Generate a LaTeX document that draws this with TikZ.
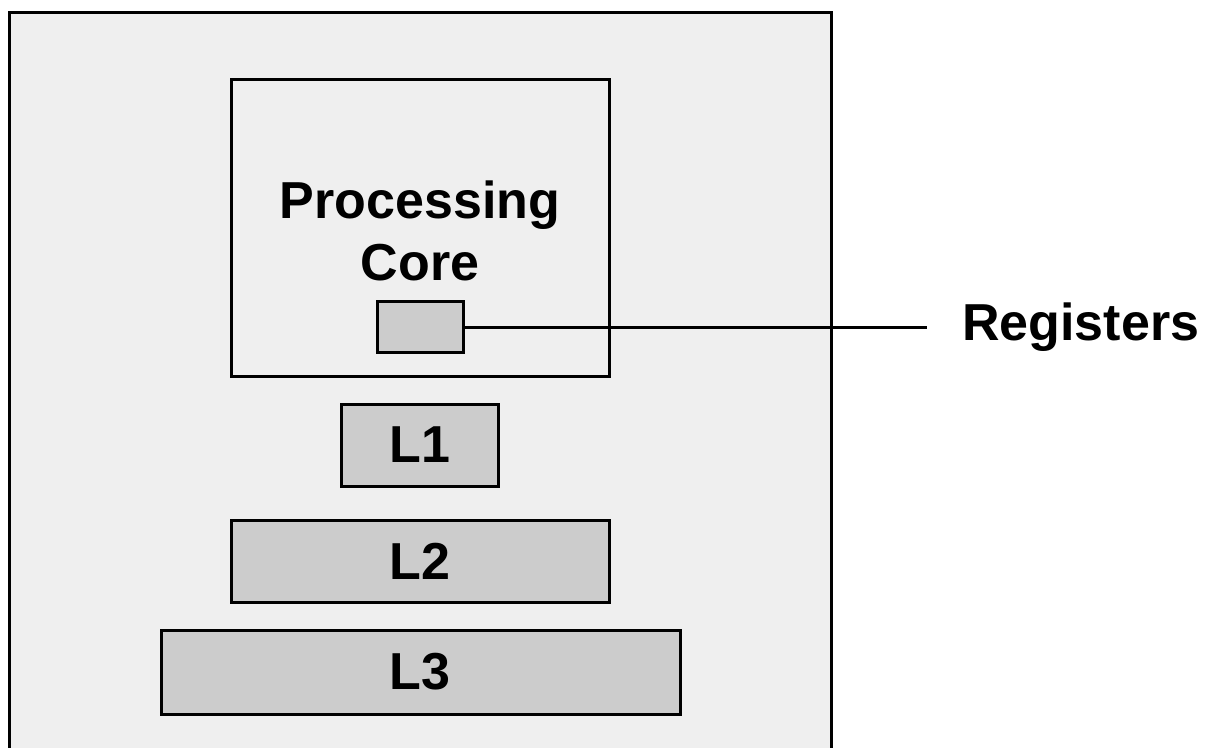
\documentclass[tikz,border=0pt]{standalone}
\usepackage{fontspec}
\setmainfont{Liberation Sans}
\definecolor{bgpanel}{HTML}{EFEFEF}
\definecolor{cachegray}{HTML}{CCCCCC}
\begin{document}
\begin{tikzpicture}[x=1pt,y=-1pt,
  panel/.style={draw=black,line width=3pt,fill=bgpanel},
  cachebox/.style={draw=black,line width=3pt,fill=cachegray},
  lbl/.style={font=\fontsize{52}{62}\selectfont\bfseries,align=center,inner sep=0pt}]
\useasboundingbox (0,0) rectangle (1206,747);
\fill[white] (0,0) rectangle (1206,747);
\draw[panel] (9,12) rectangle (831,760);
\draw[panel] (231,79) rectangle (609,376);
\node[lbl] (core) at (420,231) {Processing\\Core};
\draw[cachebox] (377,301) rectangle (463,352);
\coordinate (regE) at (463,327);
\node[lbl,anchor=west] (reglbl) at (962,327) {Registers};
\coordinate (lineend) at (927,327);
\draw[line width=3pt] (regE) -- (lineend);
\draw[cachebox] (341,404) rectangle (498,486);
\node[lbl] (l1) at (420,445) {L1};
\draw[cachebox] (231,520) rectangle (609,602);
\node[lbl] (l2) at (420,561) {L2};
\draw[cachebox] (161,630) rectangle (680,714);
\node[lbl] (l3) at (420,672) {L3};
\end{tikzpicture}
\end{document}
